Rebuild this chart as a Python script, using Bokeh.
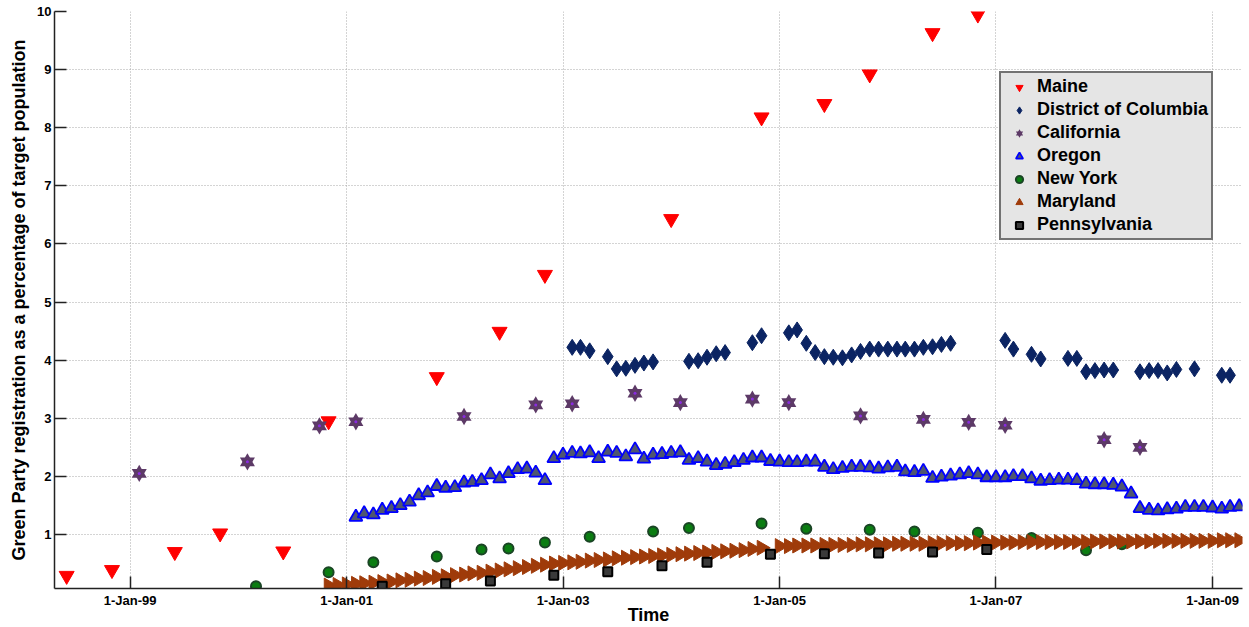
import numpy as np
import pandas as pd
from bokeh.plotting import figure
from bokeh.models import (FixedTicker, DatetimeTickFormatter, Range1d, Legend, LegendItem)
from bokeh.embed import file_html
from bokeh.resources import INLINE

# ---------------- data ----------------
maine_dates = ["1998-06-01", "1998-11-01", "1999-06-01", "1999-11-01", "2000-06-01", "2000-11-01",
               "2001-11-01", "2002-06-01", "2002-11-01", "2004-01-01", "2004-11-01", "2005-06-01",
               "2005-11-01", "2006-06-01", "2006-11-01"]
maine_vals = [0.29, 0.39, 0.70, 1.02, 0.71, 2.95, 3.71, 4.49, 5.47, 6.43, 8.18, 8.41, 8.92, 9.63, 9.95]

dc_dates = ["2003-02-01", "2003-03-01", "2003-04-01", "2003-06-01", "2003-07-01", "2003-08-01",
            "2003-09-01", "2003-10-01", "2003-11-01", "2004-03-01", "2004-04-01", "2004-05-01",
            "2004-06-01", "2004-07-01", "2004-10-01", "2004-11-01", "2005-02-01", "2005-03-01",
            "2005-04-01", "2005-05-01", "2005-06-01", "2005-07-01", "2005-08-01", "2005-09-01",
            "2005-10-01", "2005-11-01", "2005-12-01", "2006-01-01", "2006-02-01", "2006-03-01",
            "2006-04-01", "2006-05-01", "2006-06-01", "2006-07-01", "2006-08-01", "2007-02-01",
            "2007-03-01", "2007-05-01", "2007-06-01", "2007-09-01", "2007-10-01", "2007-11-01",
            "2007-12-01", "2008-01-01", "2008-02-01", "2008-05-01", "2008-06-01", "2008-07-01",
            "2008-08-01", "2008-09-01", "2008-11-01", "2009-02-01", "2009-03-01"]
dc_vals = [4.22, 4.22, 4.16, 4.06, 3.85, 3.86, 3.91, 3.95, 3.97, 3.98, 3.99, 4.05,
           4.11, 4.13, 4.30, 4.42, 4.47, 4.52, 4.29, 4.13, 4.06, 4.05, 4.04, 4.09,
           4.15, 4.19, 4.19, 4.19, 4.19, 4.19, 4.19, 4.22, 4.23, 4.27, 4.29, 4.34,
           4.19, 4.10, 4.02, 4.03, 4.03, 3.80, 3.82, 3.83, 3.83, 3.80, 3.82, 3.82,
           3.78, 3.84, 3.85, 3.74, 3.74]

ca_dates = ["1999-02-01", "2000-02-01", "2000-10-01", "2001-02-01", "2002-02-01", "2002-10-01",
            "2003-02-01", "2003-09-01", "2004-02-01", "2004-10-01", "2005-02-01", "2005-10-01",
            "2006-05-01", "2006-10-01", "2007-02-01", "2008-01-01", "2008-05-01"]
ca_vals = [2.05, 2.25, 2.87, 2.94, 3.03, 3.23, 3.25, 3.43, 3.27, 3.33, 3.27, 3.04,
           2.98, 2.93, 2.88, 2.63, 2.50]

or_start = "2001-02-01"   # monthly series
or_vals = [1.30, 1.36, 1.34, 1.42, 1.45, 1.50, 1.56, 1.67, 1.72, 1.83, 1.80,
           1.81, 1.89, 1.90, 1.93, 2.03, 1.96, 2.05, 2.12, 2.13, 2.06, 1.93, 2.31,
           2.37, 2.40, 2.39, 2.41, 2.31, 2.42, 2.40, 2.34, 2.46, 2.30, 2.37, 2.38,
           2.40, 2.41, 2.28, 2.31, 2.25, 2.19, 2.21, 2.24, 2.28, 2.32, 2.32, 2.26,
           2.25, 2.24, 2.24, 2.25, 2.25, 2.16, 2.12, 2.14, 2.16, 2.16, 2.15, 2.13,
           2.15, 2.16, 2.08, 2.07, 2.09, 1.97, 1.99, 2.01, 2.03, 2.05, 2.03, 1.98,
           1.98, 1.98, 2.00, 2.00, 1.96, 1.92, 1.93, 1.94, 1.94, 1.93, 1.87, 1.86,
           1.86, 1.85, 1.82, 1.70, 1.45, 1.42, 1.41, 1.43, 1.44, 1.47, 1.47, 1.47,
           1.46, 1.44, 1.47, 1.48]

ny_dates = ["2000-03-01", "2000-11-01", "2001-04-01", "2001-11-01", "2002-04-01", "2002-07-01",
            "2002-11-01", "2003-04-01", "2003-11-01", "2004-03-01", "2004-11-01", "2005-04-01",
            "2005-11-01", "2006-04-01", "2006-11-01", "2007-05-01", "2007-11-01", "2008-03-01"]
ny_vals = [0.11, 0.35, 0.52, 0.62, 0.74, 0.76, 0.86, 0.96, 1.05, 1.11, 1.19, 1.10,
           1.08, 1.05, 1.03, 0.94, 0.73, 0.83]

md_start = "2000-11-01"   # monthly series (nan = no reading)
md_vals = [0.12, 0.13,
           0.14, 0.15, 0.16, 0.17, 0.18, 0.19, 0.21, 0.22, 0.24, 0.25, 0.27, 0.28,
           0.30, 0.31, 0.33, 0.34, 0.36, 0.38, 0.40, 0.42, 0.44, 0.46, 0.48, 0.50,
           0.51, 0.52, 0.53, 0.55, 0.56, 0.57, 0.59, 0.60, 0.61, 0.62, 0.63, 0.64,
           0.65, 0.66, 0.67, 0.68, 0.69, 0.70, 0.71, 0.72, 0.73, 0.75, 0.77, np.nan,
           0.80, 0.80, 0.81, 0.81, 0.81, 0.82, 0.82, 0.82, 0.82, 0.83, 0.83, 0.83,
           0.83, 0.84, 0.84, 0.84, 0.84, 0.85, 0.85, 0.85, 0.85, 0.85, 0.86, 0.86,
           0.86, 0.86, 0.86, 0.87, 0.87, 0.87, 0.87, 0.87, 0.87, 0.87, 0.87, 0.88,
           0.88, 0.88, 0.88, 0.88, 0.88, 0.88, 0.89, 0.89, 0.89, 0.89, 0.89, 0.89,
           0.89, 0.90, 0.90, 0.90]

pa_dates = ["2001-05-01", "2001-12-01", "2002-05-01", "2002-12-01", "2003-06-01", "2003-12-01",
            "2004-05-01", "2004-12-01", "2005-06-01", "2005-12-01", "2006-06-01", "2006-12-01"]
pa_vals = [0.11, 0.15, 0.20, 0.30, 0.36, 0.46, 0.52, 0.66, 0.67, 0.68, 0.70, 0.74]

x_tick_dates = ["1999-01-01", "2001-01-01", "2003-01-01", "2005-01-01", "2007-01-01", "2009-01-01"]
y_ticks = [1, 2, 3, 4, 5, 6, 7, 8, 9, 10]
x_start, x_end = "1998-04-21", "2009-04-12"
y_start, y_end = 0.07, 10

# --------------- figure ---------------
def ms(d):
    return pd.Timestamp(d).value / 1e6

FONT = "Liberation Sans"

p = figure(width=1249, height=627, x_axis_type="datetime", output_backend="svg",
           toolbar_location=None,
           x_range=Range1d(ms(x_start), ms(x_end)), y_range=Range1d(y_start, y_end),
           min_border_left=54, min_border_right=7, min_border_top=11, min_border_bottom=38)
p.outline_line_color = None
p.background_fill_color = "white"
p.border_fill_color = "white"

p.xaxis.ticker = FixedTicker(ticks=[ms(d) for d in x_tick_dates])
fmt = "%-d-%b-%y"
p.xaxis.formatter = DatetimeTickFormatter(microseconds=fmt, milliseconds=fmt, seconds=fmt,
                                          minsec=fmt, minutes=fmt, hourmin=fmt, hours=fmt,
                                          days=fmt, months=fmt, years=fmt)
p.yaxis.ticker = FixedTicker(ticks=y_ticks)

for ax in (p.xaxis[0], p.yaxis[0]):
    ax.major_tick_in = 12
    ax.major_tick_out = 0
    ax.minor_tick_line_color = None
    ax.axis_line_color = "#222222"
    ax.axis_line_width = 1.5
    ax.major_tick_line_color = "#222222"
    ax.major_tick_line_width = 1.5
    ax.major_label_text_font = FONT
    ax.major_label_text_font_style = "bold"
    ax.major_label_text_font_size = "13px"
    ax.major_label_text_color = "black"
    ax.axis_label_text_font = FONT
    ax.axis_label_text_font_style = "bold"
    ax.axis_label_text_font_size = "18px"
    ax.axis_label_text_color = "black"

p.xaxis.axis_label = "Time"
p.yaxis.axis_label = "Green Party registration as a percentage of target population"
p.xaxis.major_label_standoff = 4
p.xaxis.axis_label_standoff = -6
p.yaxis.major_label_standoff = 3
p.yaxis.axis_label_standoff = 5

for g in (p.xgrid[0], p.ygrid[0]):
    g.grid_line_color = "#a8a8a8"
    g.grid_line_dash = "1 2"
    g.grid_line_width = 1

# --------------- series ---------------
or_dates = pd.date_range(or_start, periods=len(or_vals), freq="MS")
md_dates = pd.date_range(md_start, periods=len(md_vals), freq="MS")

r_me = p.scatter(pd.to_datetime(maine_dates), maine_vals, marker="inverted_triangle", size=15,
                 fill_color="#ff0000", line_color="#ff0000")
r_dc = p.scatter(pd.to_datetime(dc_dates), dc_vals, marker="diamond", size=16,
                 fill_color="#0b2463", line_color="#0b2463")
ca_x = pd.to_datetime(ca_dates)
r_ca1 = p.scatter(ca_x, ca_vals, marker="triangle", size=15, fill_color="#5d3a67", line_color=None)
r_ca2 = p.scatter(ca_x, ca_vals, marker="inverted_triangle", size=15, fill_color="#5d3a67", line_color=None)
p.scatter(ca_x, ca_vals, marker="circle", size=3, fill_color="#8a2be2", line_color=None)
r_or = p.scatter(or_dates, or_vals, marker="triangle", size=13,
                 fill_color="#4f5670", line_color="#0000ff", line_width=1.8)
r_ny = p.scatter(pd.to_datetime(ny_dates), ny_vals, marker="circle", size=10,
                 fill_color="#0b7d12", line_color="#1a4525", line_width=2)
r_md = p.scatter(md_dates, md_vals, marker="triangle", size=15, angle=-np.pi / 2,
                 fill_color="#9f3b0a", line_color="#9f3b0a")
r_pa = p.scatter(pd.to_datetime(pa_dates), pa_vals, marker="square", size=9,
                 fill_color="#3a3a3a", line_color="black", line_width=2)

legend = Legend(items=[
    LegendItem(label="Maine", renderers=[r_me]),
    LegendItem(label="District of Columbia", renderers=[r_dc]),
    LegendItem(label="California", renderers=[r_ca1, r_ca2]),
    LegendItem(label="Oregon", renderers=[r_or]),
    LegendItem(label="New York", renderers=[r_ny]),
    LegendItem(label="Maryland", renderers=[r_md]),
    LegendItem(label="Pennsylvania", renderers=[r_pa]),
], location=(945, 348))
legend.label_text_font = FONT
legend.label_text_font_style = "bold"
legend.label_text_font_size = "18px"
legend.label_text_color = "black"
legend.glyph_width = 30
legend.glyph_height = 18
legend.label_height = 18
legend.label_standoff = 3
legend.padding = 3
legend.spacing = 2
legend.margin = 0
legend.border_line_color = "black"
legend.border_line_width = 2
legend.background_fill_color = "#e5e5e5"
legend.background_fill_alpha = 1
p.add_layout(legend)

open("out.html", "w").write(file_html(p, INLINE))
